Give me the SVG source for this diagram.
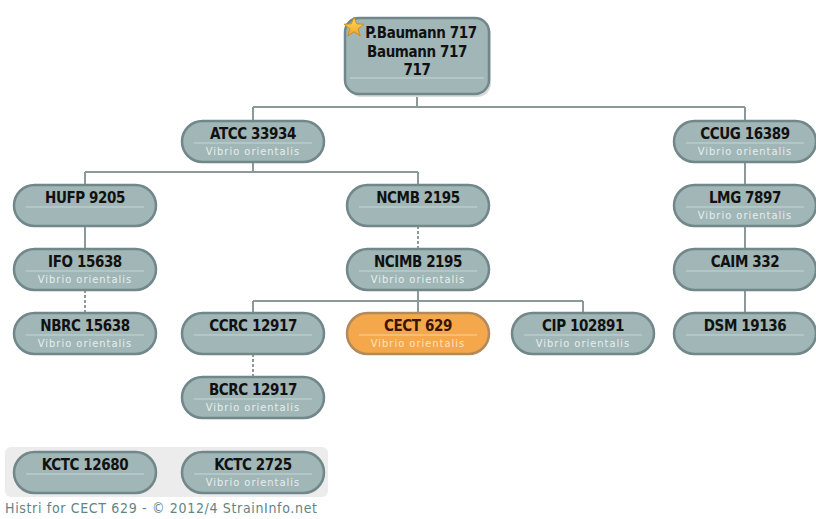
<svg xmlns="http://www.w3.org/2000/svg" width="816" height="519" viewBox="0 0 816 519">
<defs>
<style>
.n{fill:#a1b6b6;stroke:#72878a;stroke-width:2.5}
.o{fill:#f4a84b;stroke:#b38a5c;stroke-width:2.5}
.sh{fill:#d6dcdc}
.dv{stroke:#c6d6d6;stroke-width:1}
.dvo{stroke:#fbd3a0;stroke-width:1}
.t{font-family:"DejaVu Sans Condensed","DejaVu Sans",sans-serif;font-stretch:condensed;font-weight:bold;font-size:15px;letter-spacing:-0.4px;fill:#111;text-anchor:middle}
.s{font-family:"DejaVu Sans Condensed","DejaVu Sans",sans-serif;font-stretch:condensed;font-size:11px;letter-spacing:1px;fill:#e6efef;text-anchor:middle}
.so{fill:#fde2bf}
.to{fill:#3a1500}
.c{fill:none;stroke:#8b9999;stroke-width:2}
.d{fill:none;stroke:#8b9999;stroke-width:2;stroke-dasharray:3 2}
.f{font-family:"DejaVu Sans Condensed","DejaVu Sans",sans-serif;font-stretch:condensed;font-size:14px;fill:#5f8585}
</style>
<linearGradient id="star" x1="0" y1="0" x2="0" y2="1">
<stop offset="0" stop-color="#ffe066"/>
<stop offset="1" stop-color="#f0a020"/>
</linearGradient>
</defs>
<rect width="816" height="519" fill="#ffffff"/>
<rect x="5" y="447" width="323" height="50" rx="6" fill="#ececec"/>

<g id="connectors">
<path class="c" d="M417,95V107M253,107H745M253,107V121M745,107V121"/>
<path class="c" d="M253,162V172M85,172H418M85,172V185M418,172V185"/>
<path class="c" d="M85,226V249"/>
<path class="d" d="M85,290V313"/>
<path class="d" d="M418,226V249"/>
<path class="c" d="M418,290V301M253,301H583M253,301V313M418,301V313M583,301V313"/>
<path class="d" d="M253,354V377"/>
<path class="c" d="M745,162V185M745,226V249M745,290V313"/>
</g>

<g id="root">
<rect class="sh" x="347" y="20" width="144" height="77" rx="14"/>
<rect class="n" x="345" y="18" width="144" height="76" rx="14"/>
<line class="dv" x1="350" y1="78" x2="484" y2="78"/>
<text class="t" x="421" y="38">P.Baumann 717</text>
<text class="t" x="417" y="57">Baumann 717</text>
<text class="t" x="417" y="75">717</text>
<polygon points="354,17 356.6,23.9 364,24.2 358.2,28.8 360.2,36 354,31.8 347.8,36 349.8,28.8 344,24.2 351.4,23.9" fill="url(#star)" stroke="#c8870f" stroke-width="0.8"/>
</g>

<g id="atcc33934">
<rect class="n" x="182" y="121" width="142" height="41" rx="20.5"/>
<line class="dv" x1="194" y1="143" x2="312" y2="143"/>
<text class="t" x="253" y="139">ATCC 33934</text>
<text class="s" x="253" y="155">Vibrio orientalis</text>
</g>

<g id="ccug16389">
<rect class="n" x="674" y="121" width="142" height="41" rx="20.5"/>
<line class="dv" x1="686" y1="143" x2="804" y2="143"/>
<text class="t" x="745" y="139">CCUG 16389</text>
<text class="s" x="745" y="155">Vibrio orientalis</text>
</g>

<g id="hufp9205">
<rect class="n" x="14" y="185" width="142" height="41" rx="20.5"/>
<line class="dv" x1="26" y1="207" x2="144" y2="207"/>
<text class="t" x="85" y="203">HUFP 9205</text>
</g>

<g id="ncmb2195">
<rect class="n" x="347" y="185" width="142" height="41" rx="20.5"/>
<line class="dv" x1="359" y1="207" x2="477" y2="207"/>
<text class="t" x="418" y="203">NCMB 2195</text>
</g>

<g id="lmg7897">
<rect class="n" x="674" y="185" width="142" height="41" rx="20.5"/>
<line class="dv" x1="686" y1="207" x2="804" y2="207"/>
<text class="t" x="745" y="203">LMG 7897</text>
<text class="s" x="745" y="219">Vibrio orientalis</text>
</g>

<g id="ifo15638">
<rect class="n" x="14" y="249" width="142" height="41" rx="20.5"/>
<line class="dv" x1="26" y1="271" x2="144" y2="271"/>
<text class="t" x="85" y="267">IFO 15638</text>
<text class="s" x="85" y="283">Vibrio orientalis</text>
</g>

<g id="ncimb2195">
<rect class="n" x="347" y="249" width="142" height="41" rx="20.5"/>
<line class="dv" x1="359" y1="271" x2="477" y2="271"/>
<text class="t" x="418" y="267">NCIMB 2195</text>
<text class="s" x="418" y="283">Vibrio orientalis</text>
</g>

<g id="caim332">
<rect class="n" x="674" y="249" width="142" height="41" rx="20.5"/>
<line class="dv" x1="686" y1="271" x2="804" y2="271"/>
<text class="t" x="745" y="267">CAIM 332</text>
</g>

<g id="nbrc15638">
<rect class="n" x="14" y="313" width="142" height="41" rx="20.5"/>
<line class="dv" x1="26" y1="335" x2="144" y2="335"/>
<text class="t" x="85" y="331">NBRC 15638</text>
<text class="s" x="85" y="347">Vibrio orientalis</text>
</g>

<g id="ccrc12917">
<rect class="n" x="182" y="313" width="142" height="41" rx="20.5"/>
<line class="dv" x1="194" y1="335" x2="312" y2="335"/>
<text class="t" x="253" y="331">CCRC 12917</text>
</g>

<g id="cect629">
<rect class="o" x="347" y="313" width="142" height="41" rx="20.5"/>
<line class="dvo" x1="359" y1="335" x2="477" y2="335"/>
<text class="t to" x="418" y="331">CECT 629</text>
<text class="s so" x="418" y="347">Vibrio orientalis</text>
</g>

<g id="cip102891">
<rect class="n" x="512" y="313" width="142" height="41" rx="20.5"/>
<line class="dv" x1="524" y1="335" x2="642" y2="335"/>
<text class="t" x="583" y="331">CIP 102891</text>
<text class="s" x="583" y="347">Vibrio orientalis</text>
</g>

<g id="dsm19136">
<rect class="n" x="674" y="313" width="142" height="41" rx="20.5"/>
<line class="dv" x1="686" y1="335" x2="804" y2="335"/>
<text class="t" x="745" y="331">DSM 19136</text>
</g>

<g id="bcrc12917">
<rect class="n" x="182" y="377" width="142" height="41" rx="20.5"/>
<line class="dv" x1="194" y1="399" x2="312" y2="399"/>
<text class="t" x="253" y="395">BCRC 12917</text>
<text class="s" x="253" y="411">Vibrio orientalis</text>
</g>

<g id="kctc12680">
<rect class="n" x="14" y="452" width="142" height="41" rx="20.5"/>
<line class="dv" x1="26" y1="474" x2="144" y2="474"/>
<text class="t" x="85" y="470">KCTC 12680</text>
</g>

<g id="kctc2725">
<rect class="n" x="182" y="452" width="142" height="41" rx="20.5"/>
<line class="dv" x1="194" y1="474" x2="312" y2="474"/>
<text class="t" x="253" y="470">KCTC 2725</text>
<text class="s" x="253" y="486">Vibrio orientalis</text>
</g>

<text class="f" x="5" y="513" textLength="312" lengthAdjust="spacing">Histri for CECT 629 - © 2012/4 StrainInfo.net</text>
</svg>
